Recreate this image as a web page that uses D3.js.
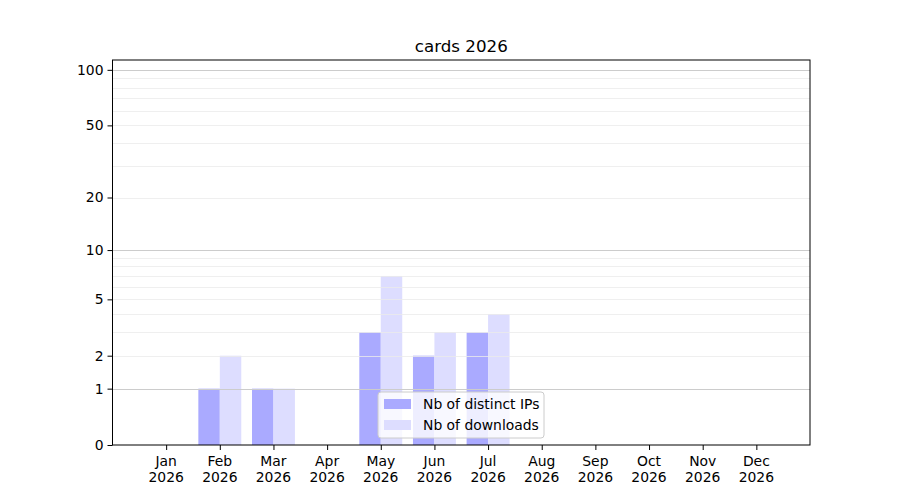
<!DOCTYPE html>
<html lang="en">
<head>
  <meta charset="UTF-8">
  <title>cards 2026</title>
  <style>
    body { margin: 0; background: #fff; }
    svg text { font-family: "DejaVu Sans", sans-serif; fill: #000; }
  </style>
</head>
<body>
<div class="chart"></div>
<script src="https://cdn.jsdelivr.net/npm/d3@7"></script>
<script>
  // data
  const months = ["Jan", "Feb", "Mar", "Apr", "May", "Jun", "Jul", "Aug", "Sep", "Oct", "Nov", "Dec"];
  const year = "2026";
  const distinctIps = [0, 1, 1, 0, 3, 2, 3, 0, 0, 0, 0, 0];
  const downloads = [0, 2, 1, 0, 7, 3, 4, 0, 0, 0, 0, 0];
  const yTickValues = [0, 1, 2, 5, 10, 20, 50, 100];
  const majorGrid = [1, 10, 100];
  const minorGrid = [2, 3, 4, 5, 6, 7, 8, 9, 20, 30, 40, 50, 60, 70, 80, 90];

  const width = 900, height = 500;
  const plotLeft = 112.5, plotRight = 810, plotTop = 60, plotBottom = 445;

  const svg = d3.select(".chart").append("svg")
    .attr("width", width)
    .attr("height", height);

  // months sit at 1..12
  const x = d3.scaleLinear().domain([0, 13]).range([plotLeft, plotRight]);
  // log10(1 + v) style axis
  const y = d3.scaleSymlog().constant(1).domain([0, 113]).range([plotBottom, plotTop]);

  const barW = x(0.4) - x(0);

  // bars
  svg.append("g").selectAll("rect")
    .data(distinctIps)
    .enter()
    .append("rect")
    .attr("x", (d, i) => x(i + 1) - barW)
    .attr("y", d => y(d))
    .attr("width", barW)
    .attr("height", d => y(0) - y(d))
    .attr("fill", "#aaaaff");

  svg.append("g").selectAll("rect")
    .data(downloads)
    .enter()
    .append("rect")
    .attr("x", (d, i) => x(i + 1))
    .attr("y", d => y(d))
    .attr("width", barW)
    .attr("height", d => y(0) - y(d))
    .attr("fill", "#ddddff");

  // grid above the bars, like matplotlib's default
  svg.append("g").selectAll("line")
    .data(minorGrid)
    .enter()
    .append("line")
    .attr("x1", plotLeft).attr("x2", plotRight)
    .attr("y1", d => Math.round(y(d)) + 0.5)
    .attr("y2", d => Math.round(y(d)) + 0.5)
    .attr("stroke", "#ebebeb")
    .attr("stroke-width", 0.8);

  svg.append("g").selectAll("line")
    .data(majorGrid)
    .enter()
    .append("line")
    .attr("x1", plotLeft).attr("x2", plotRight)
    .attr("y1", d => Math.round(y(d)) + 0.5)
    .attr("y2", d => Math.round(y(d)) + 0.5)
    .attr("stroke", "#cccccc")
    .attr("stroke-width", 1);

  // axes
  const yAxis = d3.axisLeft(y)
    .tickValues(yTickValues)
    .tickFormat(d3.format("d"))
    .tickSize(5)
    .tickPadding(4);

  const gy = svg.append("g")
    .attr("transform", `translate(${plotLeft},0)`)
    .call(yAxis);
  gy.select(".domain").remove();
  gy.selectAll("text").style("font-size", "13.9px").style("font-family", "DejaVu Sans");

  const xAxis = d3.axisBottom(x)
    .tickValues(d3.range(1, 13))
    .tickFormat("")
    .tickSize(5);

  const gx = svg.append("g")
    .attr("transform", `translate(0,${plotBottom})`)
    .call(xAxis);
  gx.select(".domain").remove();

  months.forEach((m, i) => {
    const t = svg.append("text")
      .attr("x", x(i + 1))
      .attr("y", plotBottom + 21)
      .attr("text-anchor", "middle")
      .style("font-size", "13.9px");
    t.append("tspan").attr("x", x(i + 1)).text(m);
    t.append("tspan").attr("x", x(i + 1)).attr("dy", 16).text(year);
  });

  // frame
  svg.append("rect")
    .attr("x", plotLeft).attr("y", plotTop)
    .attr("width", plotRight - plotLeft).attr("height", plotBottom - plotTop)
    .attr("fill", "none")
    .attr("stroke", "#000")
    .attr("stroke-width", 1);

  // title
  svg.append("text")
    .attr("x", (plotLeft + plotRight) / 2)
    .attr("y", 52)
    .attr("text-anchor", "middle")
    .style("font-size", "16.7px")
    .text("cards 2026");

  // legend
  const legend = svg.append("g").attr("transform", "translate(378,392)");
  legend.append("rect")
    .attr("width", 166).attr("height", 46)
    .attr("rx", 3)
    .attr("fill", "#fff").attr("fill-opacity", 0.8)
    .attr("stroke", "#cccccc");
  const items = [["Nb of distinct IPs", "#aaaaff"], ["Nb of downloads", "#ddddff"]];
  items.forEach(([label, color], i) => {
    legend.append("rect")
      .attr("x", 6).attr("y", 7 + i * 21)
      .attr("width", 27).attr("height", 10)
      .attr("fill", color);
    legend.append("text")
      .attr("x", 45).attr("y", 17 + i * 21)
      .style("font-size", "13.9px")
      .text(label);
  });
</script>
</body>
</html>
